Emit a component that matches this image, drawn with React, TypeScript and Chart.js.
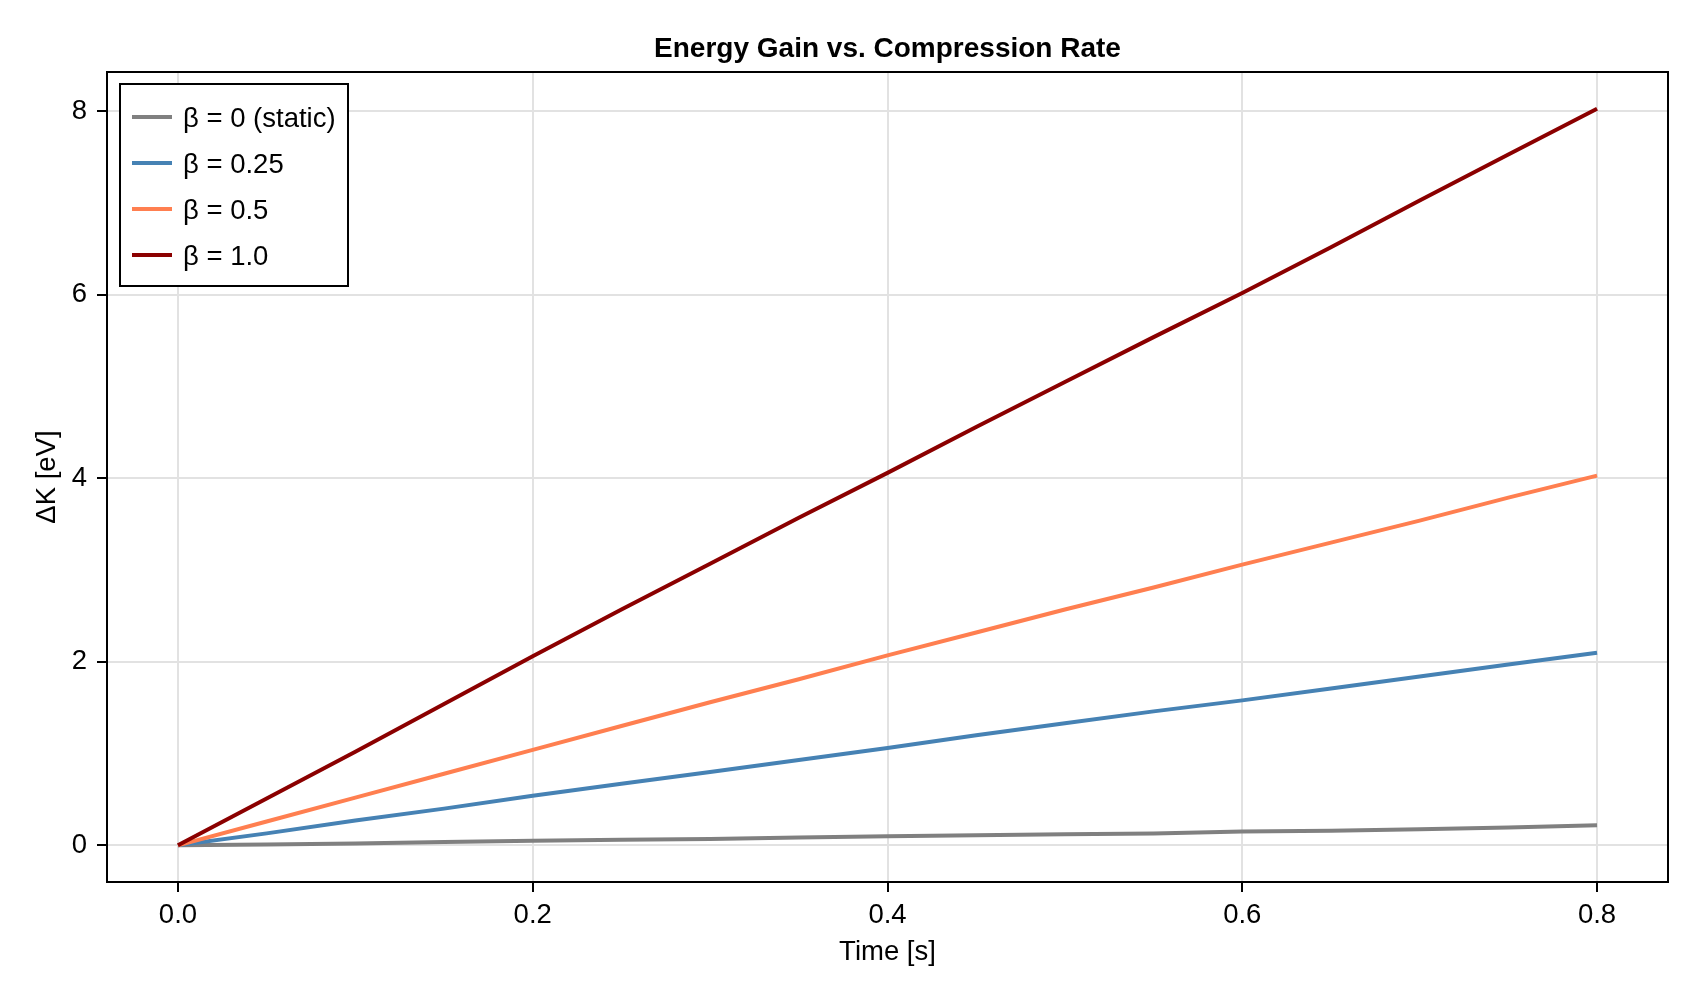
import React, { useEffect, useRef } from "react";
import { Chart, registerables } from "chart.js";

Chart.register(...registerables);

const TITLE = "Energy Gain vs. Compression Rate";

// time samples [s]
const times = [0, 0.05, 0.1, 0.15, 0.2, 0.25, 0.3, 0.35, 0.4, 0.45, 0.5, 0.55, 0.6, 0.65, 0.7, 0.75, 0.8];

// ΔK [eV]
const betaStatic = [0, 0.01, 0.02, 0.035, 0.05, 0.06, 0.07, 0.085, 0.1, 0.11, 0.12, 0.13, 0.15, 0.16, 0.175, 0.195, 0.22];
const beta025 = [0, 0.13, 0.27, 0.4, 0.54, 0.67, 0.8, 0.93, 1.06, 1.2, 1.33, 1.46, 1.58, 1.71, 1.84, 1.97, 2.1];
const beta05 = [0, 0.26, 0.52, 0.78, 1.04, 1.3, 1.56, 1.81, 2.07, 2.32, 2.57, 2.81, 3.06, 3.3, 3.54, 3.79, 4.03];
const beta1 = [0, 0.51, 1.02, 1.54, 2.06, 2.57, 3.07, 3.57, 4.06, 4.56, 5.05, 5.54, 6.02, 6.52, 7.03, 7.53, 8.03];

const seriesLabels = ["β = 0 (static)", "β = 0.25", "β = 0.5", "β = 1.0"];
const seriesColors = ["#808080", "#4682b4", "#ff7f50", "#8b0000"];

const xTicks = [0, 0.2, 0.4, 0.6, 0.8];
const yTicks = [0, 2, 4, 6, 8];

const FONT = "'Liberation Sans', Arial, sans-serif";

// frame, title and legend drawn on top (Makie-like look)
const overlayPlugin = {
  id: "overlay",
  afterDatasetsDraw(chart: any) {
    const { ctx, chartArea: a } = chart;
    ctx.save();
    ctx.strokeStyle = "#000";
    ctx.lineWidth = 2;
    ctx.strokeRect(a.left, a.top, a.right - a.left, a.bottom - a.top);

    // title
    ctx.fillStyle = "#000";
    ctx.font = `bold 28px ${FONT}`;
    ctx.textAlign = "center";
    ctx.textBaseline = "middle";
    ctx.fillText(TITLE, (a.left + a.right) / 2, 49);

    // legend box
    const bx = a.left + 13;
    const by = a.top + 12;
    ctx.fillStyle = "#fff";
    ctx.fillRect(bx, by, 228, 202);
    ctx.strokeRect(bx, by, 228, 202);
    ctx.font = `27.5px ${FONT}`;
    ctx.textAlign = "left";
    chart.data.datasets.forEach((ds: any, i: number) => {
      const y = by + 33 + i * 46;
      ctx.strokeStyle = ds.borderColor;
      ctx.lineWidth = 4;
      ctx.beginPath();
      ctx.moveTo(bx + 12, y);
      ctx.lineTo(bx + 52, y);
      ctx.stroke();
      ctx.fillStyle = "#000";
      ctx.fillText(ds.label, bx + 63, y + 2);
    });
    ctx.restore();
  },
};

const App = () => {
  const canvasRef = useRef<HTMLCanvasElement>(null);

  useEffect(() => {
    document.body.style.margin = "0";
    if (!canvasRef.current) return;
    const ctx = canvasRef.current.getContext("2d");
    if (!ctx) return;

    const series = [betaStatic, beta025, beta05, beta1];

    const chart = new Chart(ctx, {
      type: "line",
      data: {
        datasets: series.map((vals, i) => ({
          label: seriesLabels[i],
          data: times.map((t, j) => ({ x: t, y: vals[j] })),
          borderColor: seriesColors[i],
          backgroundColor: seriesColors[i],
          borderWidth: 4,
          pointRadius: 0,
          tension: 0,
          order: series.length - i,
        })),
      },
      options: {
        animation: false,
        responsive: false,
        devicePixelRatio: 1,
        layout: { padding: { top: 72, right: 32, left: 0, bottom: 0 } },
        plugins: {
          legend: { display: false },
          title: { display: false },
          tooltip: { enabled: false },
        },
        scales: {
          x: {
            type: "linear",
            min: -0.04,
            max: 0.84,
            afterBuildTicks: (scale: any) => {
              scale.ticks = xTicks.map((value) => ({ value }));
            },
            afterFit: (scale: any) => {
              scale.height = 118;
            },
            border: { display: false },
            grid: {
              color: "#e2e2e2",
              lineWidth: 2,
              tickColor: "#000",
              tickWidth: 2,
              tickLength: 10,
            },
            ticks: {
              color: "#000",
              padding: 7,
              maxRotation: 0,
              font: { family: FONT, size: 27.5 },
              callback: (v: any) => Number(v).toFixed(1),
            },
            title: {
              display: true,
              text: "Time [s]",
              color: "#000",
              font: { family: FONT, size: 27.5 },
              padding: { top: 0, bottom: 31 },
            },
          },
          y: {
            type: "linear",
            min: -0.4,
            max: 8.43,
            afterBuildTicks: (scale: any) => {
              scale.ticks = yTicks.map((value) => ({ value }));
            },
            afterFit: (scale: any) => {
              scale.width = 107;
            },
            border: { display: false },
            grid: {
              color: "#e2e2e2",
              lineWidth: 2,
              tickColor: "#000",
              tickWidth: 2,
              tickLength: 10,
            },
            ticks: {
              color: "#000",
              padding: 10,
              font: { family: FONT, size: 27.5 },
              callback: (v: any) => String(Math.round(Number(v))),
            },
            title: {
              display: true,
              text: "ΔK [eV]",
              color: "#000",
              font: { family: FONT, size: 27.5 },
              padding: { top: 31, bottom: 0 },
            },
          },
        },
      },
      plugins: [overlayPlugin],
    });

    return () => {
      chart.destroy();
    };
  }, []);

  return (
    <div style={{ width: 1700, height: 1000, background: "#fff" }}>
      <canvas ref={canvasRef} width={1700} height={1000} style={{ display: "block" }}></canvas>
    </div>
  );
};

export default App;
